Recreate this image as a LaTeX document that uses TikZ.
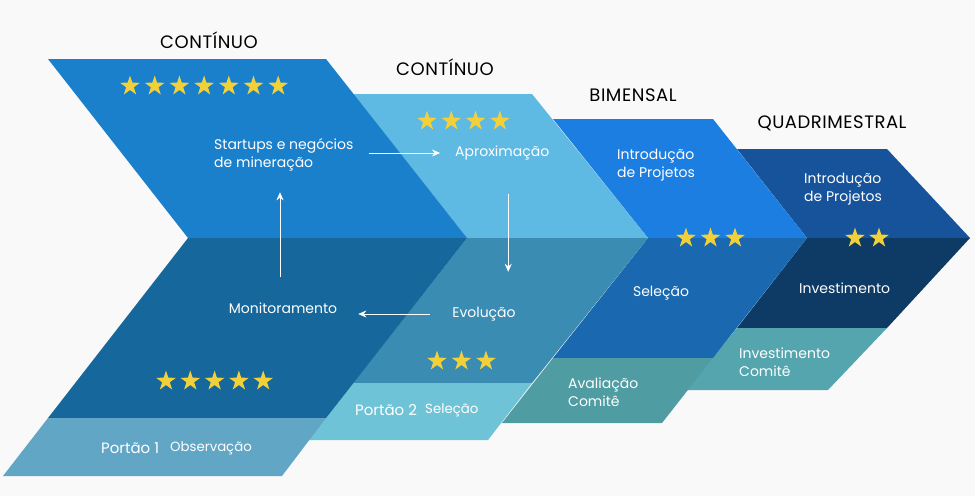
\documentclass[tikz,border=0pt]{standalone}
\usepackage{fontspec}
\setmainfont{Poppins}
\newfontfamily\hdrfont[LetterSpace=3]{Poppins}
\usetikzlibrary{shapes.geometric,arrows.meta}
\definecolor{bgcol}{HTML}{F9F9F9}
\definecolor{onetop}{HTML}{1A80CB}
\definecolor{onebot}{HTML}{16679B}
\definecolor{onegate}{HTML}{62A6C6}
\definecolor{twotop}{HTML}{5EB9E3}
\definecolor{twobot}{HTML}{3A8CB3}
\definecolor{twogate}{HTML}{6FC3D6}
\definecolor{threetop}{HTML}{1C7EE0}
\definecolor{threebot}{HTML}{1A68AF}
\definecolor{threegate}{HTML}{4F9DA3}
\definecolor{fourtop}{HTML}{16539B}
\definecolor{fourbot}{HTML}{0E3A66}
\definecolor{fourgate}{HTML}{55A5AF}
\definecolor{starcol}{HTML}{F2D03A}

\begin{document}
\begin{tikzpicture}[x=1pt,y=-1pt,
    lbl/.style={text=white,font=\fontsize{14}{17.5}\selectfont,inner sep=0pt,align=left},
    gate/.style={text=white,font=\fontsize{15}{18}\selectfont,inner sep=0pt},
    small/.style={text=white,font=\fontsize{13.3}{17}\selectfont,inner sep=0pt},
    hdr/.style={text=black,font=\hdrfont\fontsize{18}{20}\selectfont,inner sep=0pt},
    gold/.style={star,star points=5,star point ratio=2.6,fill=starcol,draw=none,minimum size=21pt,inner sep=0pt},
    flow/.style={white,line width=0.6pt,-{Stealth[length=8pt,width=7pt]}}]
\useasboundingbox[fill=bgcol] (0,0) rectangle (975,496);
% chevrons, right to left
\fill[fourtop] (737,149) -- (887,149) -- (970,238) -- (807,238) -- cycle;
\fill[fourbot] (807,238) -- (970,238) -- (887,328) -- (737,328) -- cycle;
\fill[fourgate] (737,328) -- (887,328) -- (828,390) -- (687,390) -- cycle;
\fill[threetop] (553,119) -- (713,119) -- (807,238) -- (648,238) -- cycle;
\fill[threebot] (648,238) -- (807,238) -- (713,358) -- (553,358) -- cycle;
\fill[threegate] (553,358) -- (713,358) -- (662,423) -- (502,423) -- cycle;
\fill[twotop] (353,94) -- (532,94) -- (648,238) -- (467,238) -- cycle;
\fill[twobot] (467,238) -- (648,238) -- (532,383) -- (353,383) -- cycle;
\fill[twogate] (353,383) -- (532,383) -- (488,440) -- (308,440) -- cycle;
\fill[onetop] (48,59) -- (326,59) -- (467,238) -- (188,238) -- cycle;
\fill[onebot] (188,238) -- (467,238) -- (326,418) -- (48,418) -- cycle;
\fill[onegate] (48,418) -- (326,418) -- (282,476) -- (3,476) -- cycle;

\node[hdr] (freq1) at (209,40) {CONTÍNUO};
\node[hdr] (freq2) at (445,67) {CONTÍNUO};
\node[hdr] (freq3) at (633,95) {BIMENSAL};
\node[hdr] (freq4) at (832,123) {QUADRIMESTRAL};

\foreach \i in {0,...,6}
    { \node[gold] (sa\i) at (130+24.7*\i,86) {}; }
\foreach \i in {0,...,3}
    { \node[gold] (sb\i) at (427+24.3*\i,121) {}; }
\foreach \i in {0,...,2}
    { \node[gold] (sc\i) at (686+24.5*\i,238) {}; }
\foreach \i in {0,1}
    { \node[gold] (sd\i) at (855+24*\i,238) {}; }
\foreach \i in {0,...,4}
    { \node[gold] (se\i) at (166+24.3*\i,381) {}; }
\foreach \i in {0,...,2}
    { \node[gold] (sf\i) at (437+24.5*\i,361) {}; }

\node[lbl,anchor=west] (start) at (214,155) {Startups e negócios\\de mineração};
\node[lbl,anchor=west] (aprox) at (455,153) {Aproximação};
\node[lbl] (mon) at (283,308) {Monitoramento};
\node[lbl] (evol) at (484,314) {Evolução};
\node[lbl,anchor=west] (introa) at (617,165) {Introdução\\de Projetos};
\node[lbl] (sel) at (661,293) {Seleção};
\node[lbl,anchor=west] (introb) at (804,189) {Introdução\\de Projetos};
\node[lbl,anchor=west] (inv) at (799,288) {Investimento};
\node[lbl,anchor=west] (aval) at (568,392) {Avaliação\\Comitê};
\node[lbl,anchor=west] (invc) at (739,362) {Investimento\\Comitê};
\node[gate,anchor=west] (gatea) at (101,448) {Portão 1};
\node[small,anchor=west] (obs) at (170,448) {Observação};
\node[gate,anchor=west] (gateb) at (355,410) {Portão 2};
\node[small,anchor=west] (selb) at (425,410) {Seleção};

\draw[flow,shorten <=15pt,shorten >=15pt] (start.east |- aprox.west) -- (aprox.west);
\draw[flow,shorten <=34pt,shorten >=35pt] ([xshift=6pt]aprox.south) -- ([xshift=6pt]aprox.south |- evol.north);
\draw[flow,shorten <=22pt,shorten >=21pt] (evol.west) -- (evol.west -| mon.east);
\draw[flow,shorten <=25pt,shorten >=21pt] ([xshift=-3pt]mon.north) -- ([xshift=-3pt]mon.north |- start.south);
\end{tikzpicture}
\end{document}
